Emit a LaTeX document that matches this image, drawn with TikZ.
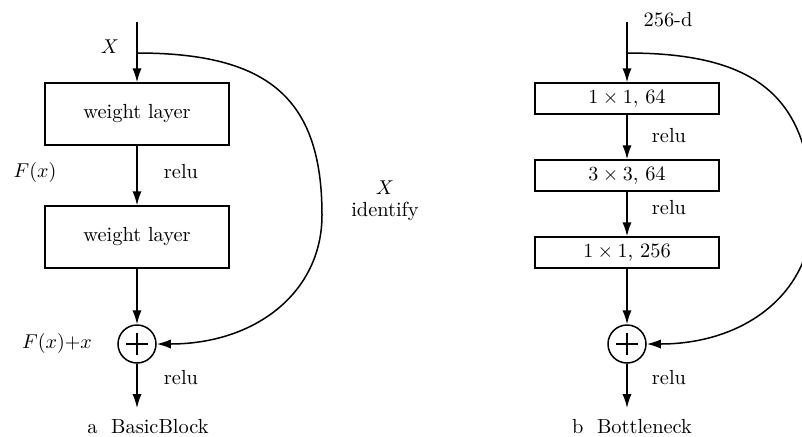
\documentclass[tikz,border=0pt]{standalone}
\usetikzlibrary{arrows.meta}
\begin{document}
\begin{tikzpicture}[x=0.5pt,y=-0.5pt,
  every node/.style={font=\fontsize{10.2}{12}\selectfont},
  line/.style={line width=0.75pt},
  arr/.style={line width=0.75pt,-{Latex[length=7pt,width=4.6pt]}},
  wbox/.style={draw,line width=0.75pt,minimum width=92pt,minimum height=31pt,inner sep=0pt},
  cbox/.style={draw,line width=0.75pt,minimum width=92pt,minimum height=15.5pt,inner sep=0pt},
  sumnode/.style={draw,circle,line width=0.75pt,minimum size=19pt,inner sep=0pt},
  lbl/.style={inner sep=0pt}]
\useasboundingbox (0,0) rectangle (802,436);
\clip (0,0) rectangle (802,436);
% ---------- a BasicBlock ----------
\coordinate (inA) at (137,22);
\coordinate (brA) at (137,53);
\node[wbox] (a1) at (137,114) {weight layer};
\node[wbox] (a2) at (137,237) {weight layer};
\node[sumnode] (sa) at (137,344) {};
\draw[line] ([xshift=-5.3pt]sa.center) -- ([xshift=5.3pt]sa.center);
\draw[line] ([yshift=-5.3pt]sa.center) -- ([yshift=5.3pt]sa.center);
\coordinate (outA) at (137,408);
\draw[arr] (inA) -- (a1);
\draw[arr] (a1) -- (a2);
\draw[arr] (a2) -- (sa);
\draw[arr] (sa) -- (outA);
\draw[arr] (brA) .. controls (268,53) and (322,98) .. (322,215)
  .. controls (322,292) and (256,344) .. (sa.east);
\node[lbl] (xa) at (110,47) {$X$};
\node[lbl] (fx) at (35,172) {$F(x)$};
\node[lbl] (ra1) at (181,172) {relu};
\node[lbl] (xi) at (385,188) {$X$};
\node[lbl] (idf) at (385,211) {identify};
\node[lbl] (fxx) at (57,343) {$F(x){+}x$};
\node[lbl] (ra2) at (181,378) {relu};
\node[lbl] (capa) at (148,427) {a\ \ BasicBlock};
% ---------- b Bottleneck ----------
\coordinate (inB) at (627,22);
\coordinate (brB) at (627,53);
\node[cbox] (b1) at (627,98.5) {$1\times 1$, 64};
\node[cbox] (b2) at (627,175.5) {$3\times 3$, 64};
\node[cbox] (b3) at (627,252.5) {$1\times 1$, 256};
\node[sumnode] (sb) at (627,344) {};
\draw[line] ([xshift=-5.3pt]sb.center) -- ([xshift=5.3pt]sb.center);
\draw[line] ([yshift=-5.3pt]sb.center) -- ([yshift=5.3pt]sb.center);
\coordinate (outB) at (627,408);
\draw[arr] (inB) -- (b1);
\draw[arr] (b1) -- (b2);
\draw[arr] (b2) -- (b3);
\draw[arr] (b3) -- (sb);
\draw[arr] (sb) -- (outB);
\draw[arr] (brB) .. controls (758,53) and (812,98) .. (812,215)
  .. controls (812,292) and (746,344) .. (sb.east);
\node[lbl] (dim) at (668,20) {256-d};
\node[lbl] (rb1) at (669,136) {relu};
\node[lbl] (rb2) at (669,208) {relu};
\node[lbl] (rb3) at (669,378) {relu};
\node[lbl] (capb) at (632,427) {b\ \ Bottleneck};
\end{tikzpicture}
\end{document}
